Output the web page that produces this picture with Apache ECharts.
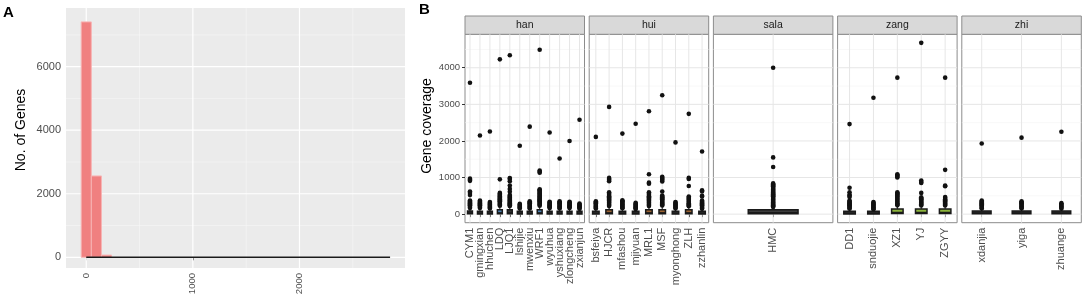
<!DOCTYPE html>
<html><head><meta charset="utf-8">
<script src="https://cdn.jsdelivr.net/npm/echarts@6/dist/echarts.min.js"></script>
<style>html,body{margin:0;padding:0;background:#fff}#c{width:1084px;height:302px}</style>
</head><body><div id="c"></div>
<script>
// ---------- Panel A: histogram ----------
const histBinCenters = [0, 95, 190];
const histCounts = [7410, 2560, 70];
const histBinWidth = 95;
const histBaseline = [0, 2850];
const histXTicks = [0, 1000, 2000];
const histXMinor = [500, 1500, 2500];
const histYTicks = [0, 2000, 4000, 6000];
const histYMinor = [1000, 3000, 5000, 7000];

// ---------- Panel B: boxplots by population ----------
const facetNames = ['han', 'hui', 'sala', 'zang', 'zhi'];
const covTicks = [0, 1000, 2000, 3000, 4000];
const covMinor = [500, 1500, 2500, 3500, 4500];

// box rows: [lower whisker, Q1, median, Q3, upper whisker]
const hanSamples = ['CYM1','gmingxian','hhuchen','LDQ','LJQ1','lshijie','mwenxiu','WRF1','wyuhua','yshuxiang','zlongcheng','zxianjun'];
const hanBoxes = [
  [0,8,30,85,160],[0,5,25,80,150],[0,5,25,80,140],[0,10,35,120,220],[0,10,35,120,210],[0,5,25,80,140],
  [0,5,25,80,145],[0,10,35,120,220],[0,5,25,80,145],[0,5,25,80,145],[0,5,25,80,145],[0,5,25,80,135]];
const hanOutliers = [
  [3590,970,940,910,620,580,520,370,345,320,295,270,245,220,195,170],
  [2150,370,345,320,295,270,245,220,195,170],
  [2260,330,305,280,255,230,205,180,155],
  [4230,950,580,555,530,505,480,455,430,405,380,355,330,305,280,255,230],
  [4340,985,960,900,780,690,610,520,495,470,445,420,395,370,345,320,295,270,245,220],
  [1870,280,255,230,205,180,155],
  [2390,350,325,300,275,250,225,200,175,155],
  [4490,1190,1160,1130,680,655,630,605,580,555,530,505,480,455,430,405,380,355,330,305,280,255,230],
  [2230,340,315,290,265,240,215,190,165],
  [1520,350,325,300,275,250,225,200,175,155],
  [2000,340,315,290,265,240,215,190,165],
  [2580,290,265,240,215,190,165,145]];

const huiSamples = ['bsfeiya','HJCR','mfashou','mjiyuan','MRL1','MSF','myonghong','ZLH','zzhanlin'];
const huiBoxes = [
  [0,5,25,80,150],[0,10,35,120,210],[0,5,25,80,150],[0,5,25,80,135],[0,10,35,120,210],
  [0,10,35,120,220],[0,5,25,80,140],[0,10,35,120,200],[0,5,25,80,140]];
const huiOutliers = [
  [2110,350,325,300,275,250,225,200,175,155],
  [2930,990,960,930,900,600,560,520,490,460,430,400,370,340,310,280,250,220],
  [2200,380,355,330,305,280,255,230,205,180,160],
  [2470,310,285,260,235,210,185,160,140],
  [2810,1090,860,830,600,560,520,490,460,430,400,370,340,310,280,250,220],
  [3250,1020,990,960,930,890,620,510,485,460,435,410,385,360,335,310,285,260,235],
  [1960,330,305,280,255,230,205,180,155],
  [2740,990,960,770,480,450,420,390,360,330,300,270,240,215],
  [1710,650,620,500,480,370,345,320,295,270,245,220,195,170,150]];

const salaSamples = ['HMC'];
const salaBoxes = [[0,10,40,120,185]];
const salaOutliers = [
  [4000,1550,1290,840,815,790,765,740,715,690,665,640,615,590,565,540,515,490,465,440,415,390,365,340,315,290,265,240,215,195]];

const zangSamples = ['DD1','snduojie','XZ1','YJ','ZGYY'];
const zangBoxes = [[0,5,25,80,140],[0,5,25,80,130],[0,15,45,140,230],[0,15,45,140,225],[0,15,45,140,225]];
const zangOutliers = [
  [2460,720,600,530,500,470,370,345,320,295,270,245,220,195,170,150],
  [3180,330,305,280,255,230,205,180,155,135],
  [3730,1090,1060,1030,1000,600,570,540,510,480,450,420,390,360,330,300,270,240],
  [4680,920,880,850,580,460,435,410,385,360,335,310,285,260,235],
  [3730,1210,780,760,470,440,410,380,350,320,290,260,235]];

const zhiSamples = ['xdanjia','yiga','zhuange'];
const zhiBoxes = [[0,10,30,85,150],[0,10,30,85,150],[0,10,30,85,140]];
const zhiOutliers = [
  [1930,370,345,320,295,270,245,220,195,170,155],
  [2090,350,325,300,275,250,225,200,175,155],
  [2250,300,275,250,225,200,175,150]];

// ---------- styling / layout ----------
const FONT = 'Liberation Sans';
const facetFill = {han:'#4a7fb0', hui:'#9a6232', sala:'#3c3c3c', zang:'#8cb43c', zhi:'#333333'};
const darkFill = '#333333';
const hanColored = ['LDQ','WRF1'];
const huiColored = ['HJCR','MRL1','MSF','ZLH'];
const zangColored = ['XZ1','YJ','ZGYY'];
const facets = [
  {name:'han', samples:hanSamples, boxes:hanBoxes, out:hanOutliers, colored:hanColored},
  {name:'hui', samples:huiSamples, boxes:huiBoxes, out:huiOutliers, colored:huiColored},
  {name:'sala', samples:salaSamples, boxes:salaBoxes, out:salaOutliers, colored:salaSamples},
  {name:'zang', samples:zangSamples, boxes:zangBoxes, out:zangOutliers, colored:zangColored},
  {name:'zhi', samples:zhiSamples, boxes:zhiBoxes, out:zhiOutliers, colored:zhiSamples}
];

const A = {left:66, top:8, width:339, height:260, xMin:-190, xMax:2990, yMin:-337, yMax:7847};
const B = {left0:465, step:124.2, width:119.5, top:34.3, height:188.4, yMin:-234, yMax:4914, stripTop:16, stripH:18.3};
const plain = v => String(v);

const grids = [], xAxes = [], yAxes = [], series = [], graphics = [];

function hLineSeries(gi, xRef, values, color, width) {
  return {type:'custom', xAxisIndex:gi, yAxisIndex:gi, z:1, silent:true,
    data: values.map(v => [xRef, v]), encode:{x:0, y:1},
    renderItem: (params, api) => {
      const cs = params.coordSys; const y = api.coord([api.value(0), api.value(1)])[1];
      return {type:'line', shape:{x1:cs.x, y1:y, x2:cs.x+cs.width, y2:y}, style:{stroke:color, lineWidth:width}};
    }};
}
function vLineSeries(gi, yRef, values, color, width) {
  return {type:'custom', xAxisIndex:gi, yAxisIndex:gi, z:1, silent:true,
    data: values.map(v => [v, yRef]), encode:{x:0, y:1},
    renderItem: (params, api) => {
      const cs = params.coordSys; const x = api.coord([api.value(0), api.value(1)])[0];
      return {type:'line', shape:{x1:x, y1:cs.y, x2:x, y2:cs.y+cs.height}, style:{stroke:color, lineWidth:width}};
    }};
}

// Panel A
grids.push({left:A.left, top:A.top, width:A.width, height:A.height, show:true, backgroundColor:'#ebebeb', borderWidth:0});
xAxes.push({type:'value', gridIndex:0, min:A.xMin, max:A.xMax,
  axisLine:{show:false}, splitLine:{show:false},
  axisTick:{show:true, customValues:histXTicks, length:3, lineStyle:{color:'#333'}},
  axisLabel:{customValues:histXTicks, formatter:plain, rotate:90, margin:5, fontSize:9.5, color:'#4d4d4d', fontFamily:FONT}});
yAxes.push({type:'value', gridIndex:0, min:A.yMin, max:A.yMax,
  axisLine:{show:false}, splitLine:{show:false},
  axisTick:{show:true, customValues:histYTicks, length:3, lineStyle:{color:'#333'}},
  axisLabel:{customValues:histYTicks, formatter:plain, margin:5, fontSize:11, color:'#4d4d4d', fontFamily:FONT}});
series.push(hLineSeries(0, 0, histYMinor, '#f7f7f7', 0.6));
series.push(vLineSeries(0, 0, histXMinor, '#f7f7f7', 0.6));
series.push(hLineSeries(0, 0, histYTicks, '#ffffff', 1.2));
series.push(vLineSeries(0, 0, histXTicks, '#ffffff', 1.2));
series.push({type:'custom', xAxisIndex:0, yAxisIndex:0, z:2,
  data: histBinCenters.map((c, i) => [c, histCounts[i]]), encode:{x:0, y:1},
  renderItem: (params, api) => {
    const c = api.value(0), n = api.value(1);
    const p0 = api.coord([c - histBinWidth/2, n]);
    const p1 = api.coord([c + histBinWidth/2, 0]);
    return {type:'rect', shape:{x:p0[0], y:p0[1], width:p1[0]-p0[0], height:p1[1]-p0[1]},
      style:{fill:'#f08080', stroke:'#f7b4b4', lineWidth:1}};
  }});
series.push({type:'line', xAxisIndex:0, yAxisIndex:0, z:3, symbol:'none', silent:true,
  data: histBaseline.map(x => [x, 0]), lineStyle:{color:'#1a1a1a', width:1.6}});

// Panel B
facets.forEach((f, k) => {
  const gi = k + 1;
  const left = B.left0 + k * B.step;
  grids.push({left:left, top:B.top, width:B.width, height:B.height, show:true,
    backgroundColor:'#ffffff', borderColor:'#8c8c8c', borderWidth:1});
  xAxes.push({type:'category', gridIndex:gi, data:f.samples, boundaryGap:true,
    axisLine:{show:false}, splitLine:{show:false},
    axisTick:{show:true, alignWithLabel:true, length:3, lineStyle:{color:'#333'}},
    axisLabel:{rotate:90, margin:5, fontSize:11, color:'#4d4d4d', fontFamily:FONT, interval:0}});
  yAxes.push({type:'value', gridIndex:gi, min:B.yMin, max:B.yMax,
    axisLine:{show:false}, splitLine:{show:false},
    axisTick:{show:k===0, customValues:covTicks, length:3, lineStyle:{color:'#333'}},
    axisLabel:{show:k===0, customValues:covTicks, formatter:plain, margin:5, fontSize:9.5, color:'#4d4d4d', fontFamily:FONT}});
  series.push(hLineSeries(gi, 0, covMinor, '#f3f3f3', 0.6));
  series.push(hLineSeries(gi, 0, covTicks, '#e6e6e6', 1));
  series.push(vLineSeries(gi, 0, f.samples.map((s, i) => i), '#e6e6e6', 1));
  const n = f.samples.length;
  const bw = Math.max(3, 0.5 * B.width / (n + 0.2));
  series.push({type:'custom', xAxisIndex:gi, yAxisIndex:gi, z:3, silent:true,
    data: f.boxes.map((b, i) => [i].concat(b)), encode:{x:0, y:[1,2,3,4,5]},
    renderItem: (params, api) => {
      const i = api.value(0);
      const c = api.coord([i, api.value(1)]);
      const x = c[0], yMin = c[1];
      const yQ1 = api.coord([i, api.value(2)])[1];
      const yMed = api.coord([i, api.value(3)])[1];
      const yQ3 = api.coord([i, api.value(4)])[1];
      const yMax = api.coord([i, api.value(5)])[1];
      const name = f.samples[i];
      const fill = f.colored.indexOf(name) >= 0 ? facetFill[f.name] : darkFill;
      const stroke = '#1a1a1a';
      return {type:'group', children:[
        {type:'line', shape:{x1:x, y1:yMin, x2:x, y2:yQ1}, style:{stroke:stroke, lineWidth:1}},
        {type:'line', shape:{x1:x, y1:yQ3, x2:x, y2:yMax}, style:{stroke:stroke, lineWidth:1}},
        {type:'rect', shape:{x:x-bw/2, y:yQ3, width:bw, height:yQ1-yQ3}, style:{fill:fill, stroke:stroke, lineWidth:1.5}},
        {type:'line', shape:{x1:x-bw/2, y1:yMed, x2:x+bw/2, y2:yMed}, style:{stroke:stroke, lineWidth:1.5}}
      ]};
    }});
  const pts = [];
  f.out.forEach((arr, i) => arr.forEach(v => pts.push([i, v])));
  series.push({type:'scatter', xAxisIndex:gi, yAxisIndex:gi, z:4, silent:true,
    symbolSize:4.6, itemStyle:{color:'#111111', opacity:1}, data:pts});
  // strip
  graphics.push({type:'rect', shape:{x:left, y:B.stripTop, width:B.width, height:B.stripH},
    style:{fill:'#d9d9d9', stroke:'#8c8c8c', lineWidth:1}});
  graphics.push({type:'text', x:left + B.width/2, y:B.stripTop + B.stripH/2,
    style:{text:f.name, textAlign:'center', textVerticalAlign:'middle', fill:'#1a1a1a', font:'10.5px "Liberation Sans"'}});
});

graphics.push({type:'text', x:3, y:5, style:{text:'A', font:'bold 15px "Liberation Sans"', fill:'#000'}});
graphics.push({type:'text', x:419, y:2, style:{text:'B', font:'bold 15px "Liberation Sans"', fill:'#000'}});
graphics.push({type:'text', x:21, y:130, rotation:Math.PI/2,
  style:{text:'No. of Genes', textAlign:'center', textVerticalAlign:'middle', font:'14px "Liberation Sans"', fill:'#000'}});
graphics.push({type:'text', x:427, y:126, rotation:Math.PI/2,
  style:{text:'Gene coverage', textAlign:'center', textVerticalAlign:'middle', font:'14px "Liberation Sans"', fill:'#000'}});

const chart = echarts.init(document.getElementById('c'), null, {renderer:'canvas'});
chart.setOption({animation:false, backgroundColor:'#ffffff',
  grid:grids, xAxis:xAxes, yAxis:yAxes, series:series, graphic:graphics});
</script></body></html>
